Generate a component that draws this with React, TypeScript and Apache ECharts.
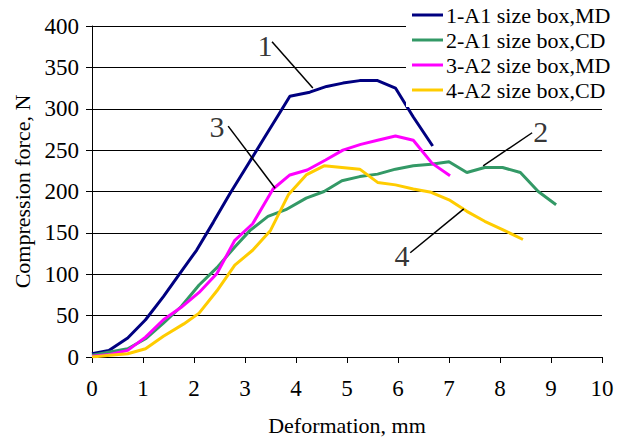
import React, { useEffect, useRef } from "react";
import * as echarts from "echarts";

const FONT = "'Liberation Serif', 'Times New Roman', serif";

const seriesNames = [
  "1-A1 size box,MD",
  "2-A1 size box,CD",
  "3-A2 size box,MD",
  "4-A2 size box,CD",
];
const seriesColors = ["#000080", "#339966", "#FF00FF", "#FFCC00"];

const x1 = [0, 0.33, 0.7, 1.05, 1.4, 1.7, 2.05, 2.38, 2.7, 3.03, 3.37, 3.7, 3.88, 4.27, 4.6, 4.92, 5.25, 5.6, 5.95, 6.3, 6.68];
const y1 = [4, 8, 23, 45, 73, 99, 129, 163, 197, 230, 264, 297, 315, 320, 327, 331, 334, 334, 325, 290, 255];

const x2 = [0, 0.35, 0.7, 1.05, 1.4, 1.75, 2.1, 2.45, 2.8, 3.1, 3.45, 3.8, 4.2, 4.55, 4.9, 5.25, 5.6, 5.95, 6.3, 6.65, 7.0, 7.35, 7.7, 8.05, 8.4, 8.75, 9.1];
const y2 = [2, 6, 10, 22, 41, 61, 87, 108, 133, 153, 170, 178, 192, 200, 213, 218, 221, 227, 231, 233, 236, 223, 229, 229, 223, 200, 184];

const x3 = [0, 0.35, 0.7, 1.05, 1.4, 1.75, 2.1, 2.45, 2.8, 3.15, 3.55, 3.88, 4.22, 4.58, 4.92, 5.27, 5.6, 5.95, 6.3, 6.67, 7.02];
const y3 = [1, 3, 8, 24, 45, 60, 78, 101, 141, 161, 203, 220, 226, 238, 250, 257, 262, 267, 262, 234, 219];

const x4 = [0, 0.35, 0.7, 1.05, 1.4, 1.8, 2.1, 2.45, 2.8, 3.15, 3.5, 3.85, 4.2, 4.55, 4.9, 5.25, 5.6, 5.95, 6.3, 6.65, 7.0, 7.35, 7.7, 8.05, 8.45];
const y4 = [0, 2, 4, 10, 25, 40, 53, 80, 111, 129, 153, 196, 220, 231, 229, 227, 211, 208, 203, 199, 190, 176, 164, 154, 142];

const xs = [x1, x2, x3, x4];
const ys = [y1, y2, y3, y4];

// annotation labels (data coordinates) and leader lines
const annotLabels = ["1", "2", "3", "4"];
const annotTextPos = [
  [3.39, 377],
  [8.8, 272],
  [2.45, 278],
  [6.08, 123],
];
const annotLines = [
  [[3.53, 381], [4.33, 325]],
  [[8.63, 271], [7.67, 231]],
  [[2.67, 279], [3.59, 204]],
  [[6.24, 126], [7.29, 179]],
];

const xTicks = { min: 0, max: 10, interval: 1 };
const yTicks = { min: 0, max: 400, interval: 50 };

export default function App() {
  const ref = useRef<HTMLDivElement>(null);
  useEffect(() => {
    if (!ref.current) return;
    const chart = echarts.init(ref.current, null, { renderer: "svg" });
    const dataSeries = seriesNames.map((name, i) => ({
      name,
      type: "line",
      data: xs[i].map((x, j) => [x, ys[i][j]]),
      showSymbol: false,
      symbol: "none",
      lineStyle: { color: seriesColors[i], width: 3 },
      itemStyle: { color: seriesColors[i] },
      z: 3,
    }));
    const leaderSeries = annotLines.map((pts, i) => ({
      name: "leader" + i,
      type: "line",
      data: pts,
      symbol: "none",
      lineStyle: { color: "#000", width: 1.5 },
      z: 4,
      silent: true,
    }));
    const labelSeries = {
      name: "labels",
      type: "scatter",
      symbolSize: 1,
      itemStyle: { color: "rgba(0,0,0,0)" },
      data: annotLabels.map((l, i) => ({ name: l, value: annotTextPos[i] })),
      label: {
        show: true,
        position: "inside",
        formatter: "{b}",
        fontFamily: FONT,
        fontSize: 30,
        color: "#000",
      },
      z: 5,
    };
    chart.setOption({
      animation: false,
      backgroundColor: "#fff",
      grid: {
        left: 92,
        top: 26,
        width: 510,
        height: 331,
        containLabel: false,
        outerBoundsMode: "none",
      },
      legend: {
        data: seriesNames,
        orient: "vertical",
        left: 406,
        top: 0,
        padding: [4, 6, 6, 6],
        backgroundColor: "#fff",
        icon: "rect",
        itemWidth: 31,
        itemHeight: 3,
        itemGap: 3,
        textStyle: { fontFamily: FONT, fontSize: 22, color: "#000", lineHeight: 22, padding: [0, 0, 0, -2] },
        z: 10,
      },
      xAxis: {
        type: "value",
        ...xTicks,
        name: "Deformation, mm",
        nameLocation: "middle",
        nameGap: 57,
        nameTextStyle: { fontFamily: FONT, fontSize: 22, color: "#000" },
        axisLine: { show: true, lineStyle: { color: "#000", width: 1 } },
        axisTick: { show: true, inside: false, length: 6, lineStyle: { color: "#000" } },
        axisLabel: { fontFamily: FONT, fontSize: 23, color: "#000", margin: 20 },
        splitLine: { show: false },
      },
      yAxis: {
        type: "value",
        ...yTicks,
        name: "Compression force, N",
        nameLocation: "middle",
        nameGap: 53,
        nameTextStyle: { fontFamily: FONT, fontSize: 22, color: "#000" },
        axisLine: { show: true, lineStyle: { color: "#000", width: 1 } },
        axisTick: { show: true, inside: false, length: 6, lineStyle: { color: "#000" } },
        axisLabel: { fontFamily: FONT, fontSize: 23, color: "#000", margin: 13 },
        splitLine: { show: true, lineStyle: { color: "#000", width: 1 } },
      },
      series: [...dataSeries, ...leaderSeries, labelSeries],
    });
    return () => chart.dispose();
  }, []);
  return (
    <div
      ref={ref}
      style={{ position: "absolute", left: 0, top: 0, width: 626, height: 437 }}
    />
  );
}
